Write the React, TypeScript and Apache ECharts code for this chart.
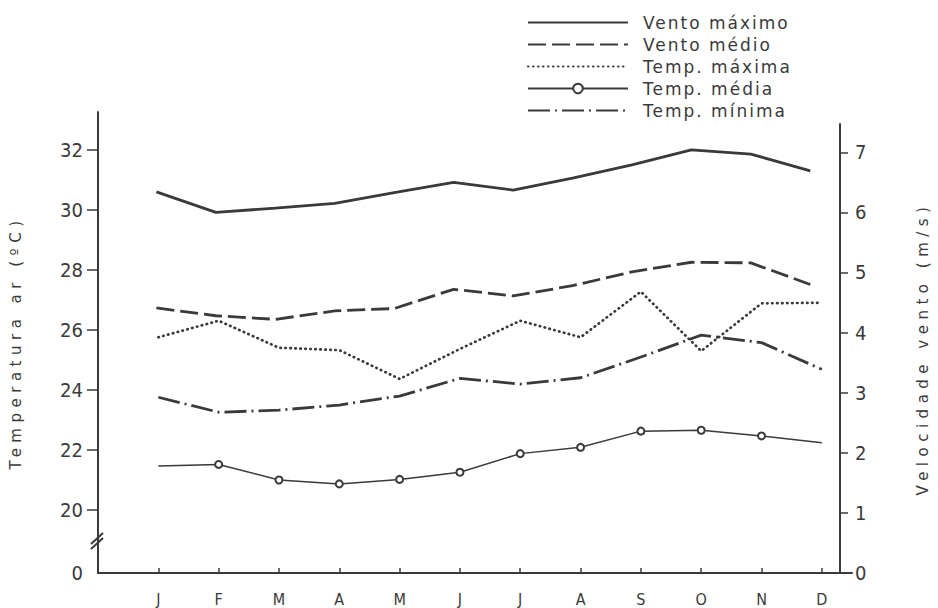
import React, { useEffect, useRef } from "react";
import * as echarts from "echarts";

// Monthly climate series (wind in m/s on the right axis, temperatures in °C on the left axis)
const months = ["J", "F", "M", "A", "M", "J", "J", "A", "S", "O", "N", "D"];
const ventoMaximo = [6.34, 6.0, 6.07, 6.15, 6.33, 6.5, 6.37, 6.57, 6.79, 7.04, 6.97, 6.69];
const ventoMedio = [4.41, 4.28, 4.22, 4.36, 4.4, 4.72, 4.61, 4.78, 5.01, 5.17, 5.16, 4.8];
const tempMaxima = [25.76, 26.31, 25.41, 25.33, 24.37, 25.37, 26.31, 25.76, 27.28, 25.3, 26.89, 26.91];
const tempMedia = [21.47, 21.52, 21.0, 20.87, 21.02, 21.26, 21.88, 22.09, 22.63, 22.66, 22.47, 22.24];
const tempMinima = [23.76, 23.26, 23.33, 23.5, 23.8, 24.39, 24.2, 24.41, 25.1, 25.83, 25.58, 24.69];
const tempTicks = [20, 22, 24, 26, 28, 30, 32];
const ventoTicks = [0, 1, 2, 3, 4, 5, 6, 7];

const legendNames = ["Vento máximo", "Vento médio", "Temp. máxima", "Temp. média", "Temp. mínima"];
const markedSeries = "Temp. média";

export default function App() {
  const ref = useRef<HTMLDivElement>(null);

  useEffect(() => {
    document.body.style.margin = "0";
    const chart = echarts.init(ref.current!, null, { renderer: "svg" });
    const ink = "#3a3a3a";
    const numFont = "'Liberation Sans Narrow', 'DejaVu Sans Condensed', 'Liberation Sans', sans-serif";
    const nameFont = "'Spaced55', 'DejaVu Sans', sans-serif";
    const legendFont = "'Spaced2', 'DejaVu Sans', sans-serif";

    const monthPos = months.map((_, i) => i + 1);
    const pairs = (vals: number[]) => vals.map((v, i) => [i + 1, v]);
    const tempFloor = 17.9; // bottom of the broken temperature axis, labelled "0"

    const axisLineStyle = { color: ink, width: 2 };

    chart.setOption({
      animation: false,
      backgroundColor: "#ffffff",
      grid: [
        { left: 97, right: 86, top: 112, bottom: 35 },
        { left: 97, right: 86, top: 124, bottom: 35 },
      ],
      legend: {
        orient: "vertical",
        left: 522,
        top: 9,
        itemWidth: 100,
        itemHeight: 12,
        itemGap: 5,
        // lines without markers show only the stroke in the key
        data: legendNames.map((name) =>
          name === markedSeries ? { name } : { name, itemStyle: { opacity: 0 } }
        ),
        textStyle: { fontSize: 17, fontFamily: legendFont, color: ink, padding: [0, 0, 0, 10] },
      },
      xAxis: [
        {
          gridIndex: 0,
          type: "value",
          min: 0,
          max: 12.5,
          axisLine: { show: true, onZero: false, lineStyle: axisLineStyle },
          axisTick: { show: true, inside: true, length: 5, customValues: monthPos, lineStyle: { color: ink, width: 1.5 } },
          axisLabel: {
            customValues: monthPos,
            formatter: (v: number) => months[Math.round(v) - 1] ?? "",
            margin: 18,
            fontSize: 16,
            color: ink,
            fontFamily: numFont,
          },
          splitLine: { show: false },
        },
        { gridIndex: 1, type: "value", min: 0, max: 12.5, show: false },
      ],
      yAxis: [
        {
          gridIndex: 0,
          type: "value",
          position: "left",
          min: tempFloor,
          max: 33.27,
          name: "Temperatura ar (ºC)",
          nameLocation: "middle",
          nameRotate: 90,
          nameGap: 75,
          nameTextStyle: { fontSize: 15, fontFamily: nameFont, color: ink },
          axisLine: { show: true, onZero: false, lineStyle: axisLineStyle },
          axisTick: { show: true, length: 11, customValues: tempTicks, lineStyle: { color: ink, width: 1.5 } },
          axisLabel: {
            customValues: [tempFloor, ...tempTicks],
            formatter: (v: number) => (v < 19 ? "0" : String(v)),
            margin: 15,
            fontSize: 20,
            color: ink,
            fontFamily: numFont,
          },
          splitLine: { show: false },
        },
        {
          gridIndex: 1,
          type: "value",
          position: "right",
          min: 0,
          max: 7.47,
          name: "Velocidade vento (m/s)",
          nameLocation: "middle",
          nameRotate: 90,
          nameGap: 75,
          nameTextStyle: { fontSize: 15, fontFamily: nameFont, color: ink },
          axisLine: { show: true, onZero: false, lineStyle: axisLineStyle },
          axisTick: { show: true, length: 8, customValues: ventoTicks, lineStyle: { color: ink, width: 1.5 } },
          axisLabel: {
            customValues: ventoTicks,
            margin: 15,
            fontSize: 20,
            color: ink,
            fontFamily: numFont,
          },
          splitLine: { show: false },
        },
      ],
      series: [
        {
          name: "Vento máximo",
          type: "line",
          xAxisIndex: 1,
          yAxisIndex: 1,
          symbol: "none",
          data: pairs(ventoMaximo),
          lineStyle: { color: ink, width: 2.8 },
          itemStyle: { color: ink },
        },
        {
          name: "Vento médio",
          type: "line",
          xAxisIndex: 1,
          yAxisIndex: 1,
          symbol: "none",
          data: pairs(ventoMedio),
          lineStyle: { color: ink, width: 2.8, type: [18, 6] },
          itemStyle: { color: ink },
        },
        {
          name: "Temp. máxima",
          type: "line",
          xAxisIndex: 0,
          yAxisIndex: 0,
          symbol: "none",
          data: pairs(tempMaxima),
          lineStyle: { color: ink, width: 2.7, type: [0.5, 4.5], cap: "round" },
          itemStyle: { color: ink },
        },
        {
          name: "Temp. média",
          type: "line",
          xAxisIndex: 0,
          yAxisIndex: 0,
          symbol: "emptyCircle",
          symbolSize: 7,
          data: tempMedia.map((v, i) =>
            i === 0 || i === tempMedia.length - 1 ? { value: [i + 1, v], symbol: "none" } : [i + 1, v]
          ),
          lineStyle: { color: ink, width: 1.5 },
          itemStyle: { color: ink, borderWidth: 1.6 },
        },
        {
          name: "Temp. mínima",
          type: "line",
          xAxisIndex: 0,
          yAxisIndex: 0,
          symbol: "none",
          data: pairs(tempMinima),
          lineStyle: { color: ink, width: 2.8, type: [22, 5, 2, 5] },
          itemStyle: { color: ink },
        },
      ],
      graphic: [
        // axis break marks between 0 and 20 on the temperature axis
        { type: "line", shape: { x1: 91, y1: 544, x2: 103, y2: 533 }, style: { stroke: ink, lineWidth: 2 }, z: 10 },
        { type: "line", shape: { x1: 91, y1: 549, x2: 103, y2: 538 }, style: { stroke: ink, lineWidth: 2 }, z: 10 },
      ],
    });

    return () => chart.dispose();
  }, []);

  return (
    <>
      <style>{`.chart text[style*="Spaced55"]{letter-spacing:5.5px}.chart text[style*="Spaced2"]{letter-spacing:2px}`}</style>
      <div ref={ref} className="chart" style={{ width: 938, height: 608 }} />
    </>
  );
}
